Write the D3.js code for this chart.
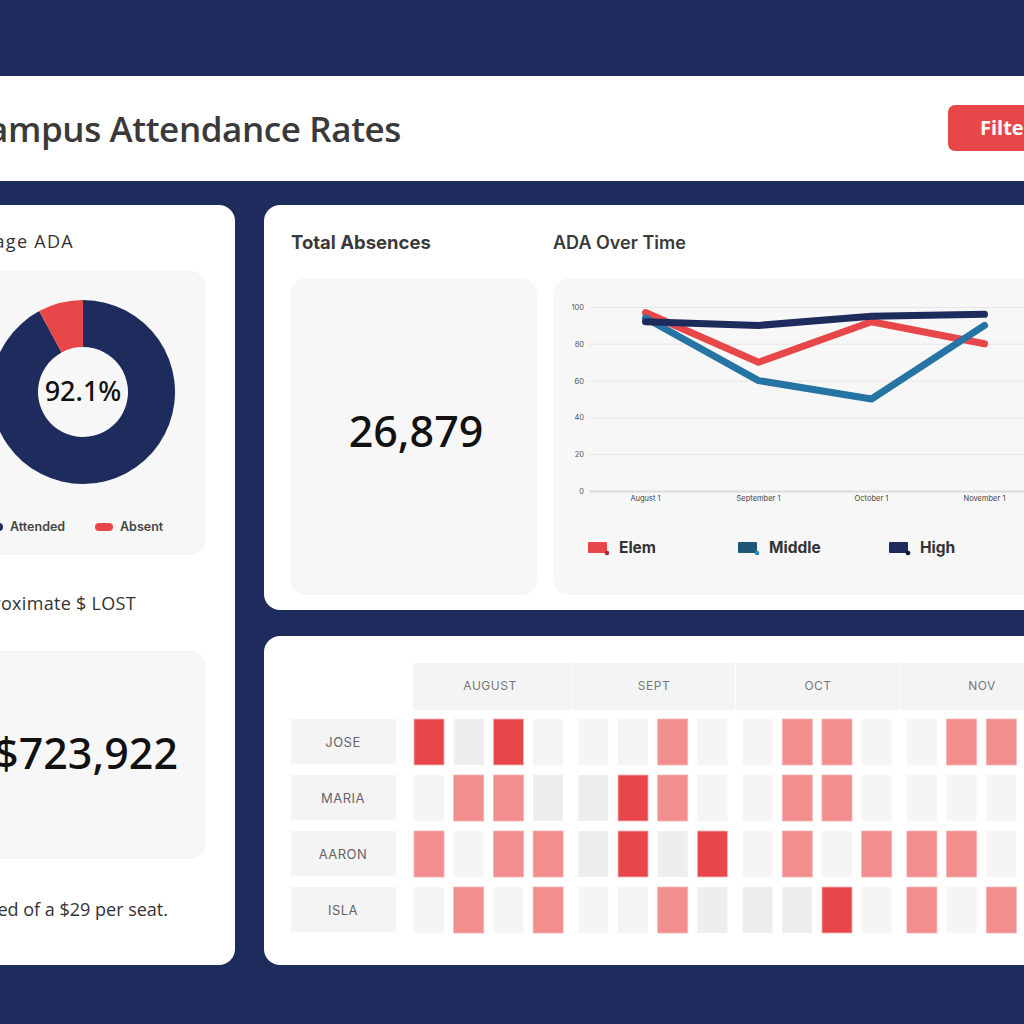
<!DOCTYPE html>
<html>
<head>
<meta charset="utf-8">
<script src="https://cdn.jsdelivr.net/npm/d3@7"></script>
<style>
  html, body { margin: 0; padding: 0; background: #1d2b5d; }
  svg { display: block; }
</style>
</head>
<body>
<div id="dash"></div>
<script>
// ---- data ----
const adaParts = ["Attended", "Absent"];
const adaValues = [92.1, 7.9];
const adaLabel = "92.1%";

const totalAbsences = "26,879";
const dollarsLost = "$723,922";

const dates = ["August 1", "September 1", "October 1", "November 1"];
const seriesNames = ["Elem", "Middle", "High"];
const elemValues = [97, 70, 92, 80];
const middleValues = [94, 60, 50, 90];
const highValues = [92, 90, 95, 96];
const yTicks = [0, 20, 40, 60, 80, 100];

const months = ["AUGUST", "SEPT", "OCT", "NOV"];
const weeks = [0, 1, 2, 3];
const students = ["JOSE", "MARIA", "AARON", "ISLA"];
// 0 = none (light), 1 = none (grey), 2 = some, 3 = many
const heatValues = [
  [3, 1, 3, 0,  0, 0, 2, 0,  0, 2, 2, 0,  0, 2, 2, 0],
  [0, 2, 2, 1,  1, 3, 2, 0,  0, 2, 2, 0,  0, 0, 0, 0],
  [2, 0, 2, 2,  1, 3, 1, 3,  0, 2, 0, 2,  2, 2, 0, 0],
  [0, 2, 0, 2,  0, 0, 2, 1,  1, 1, 3, 0,  2, 0, 2, 0]
];

// ---- colours / fonts ----
const NAVY = "#1d2b5d";
const RED = "#e84749";
const BLUE = "#2574a4";
const PANEL = "#f7f7f7";
const titleFont = "'Open Sans', 'Noto Sans', sans-serif";
const boldFont = "Inter, 'Noto Sans', sans-serif";
const numFont = "'Noto Sans', sans-serif";

const W = 1024, H = 1024;
const svg = d3.select("#dash").append("svg")
  .attr("width", W).attr("height", H)
  .attr("viewBox", `0 0 ${W} ${H}`);

svg.append("rect").attr("width", W).attr("height", H).attr("fill", NAVY);

// ---- header ----
svg.append("rect").attr("x", -10).attr("y", 76).attr("width", W + 20).attr("height", 105).attr("fill", "#fff");
svg.append("text")
  .attr("x", 401).attr("y", 142)
  .attr("text-anchor", "end")
  .style("font-family", titleFont).style("font-size", "35px").style("font-weight", 600)
  .style("letter-spacing", "-0.4px")
  .attr("fill", "#3a3a3a")
  .text("Campus Attendance Rates");

svg.append("rect").attr("x", 948).attr("y", 105).attr("width", 120).attr("height", 46).attr("rx", 7).attr("fill", RED);
svg.append("text")
  .attr("x", 980).attr("y", 135)
  .style("font-family", titleFont).style("font-size", "20px").style("font-weight", 700)
  .attr("fill", "#fff")
  .text("Filter");

// ---- cards ----
const card = (x, y, w, h, fill, r) => svg.append("rect")
  .attr("x", x).attr("y", y).attr("width", w).attr("height", h)
  .attr("rx", r).attr("fill", fill);

card(-40, 205, 275, 760, "#fff", 16);
card(264, 205, 820, 405, "#fff", 16);
card(264, 636, 820, 329, "#fff", 16);

// ======================================================
// LEFT CARD — AVERAGE ADA DONUT + $ LOST
// ======================================================
const cardTitle = (x, y, t, anchor) => svg.append("text")
  .attr("x", x).attr("y", y).attr("text-anchor", anchor || "start")
  .style("font-family", titleFont).style("font-size", "18px").style("font-weight", 500)
  .style("letter-spacing", "0.3px")
  .attr("fill", "#333").text(t);

cardTitle(74, 248, "Average ADA", "end").style("letter-spacing", "1.3px");
card(-40, 271, 246, 284, PANEL, 16);

const pie = d3.pie().sort(null).startAngle(0).endAngle(2 * Math.PI)(adaValues);
const arc = d3.arc().innerRadius(45).outerRadius(92);
const donut = svg.append("g").attr("transform", "translate(83,392)");
donut.selectAll("path")
  .data(pie)
  .join("path")
  .attr("d", arc)
  .attr("fill", (d, i) => i === 0 ? NAVY : RED);
donut.append("text")
  .attr("text-anchor", "middle").attr("dy", "0.35em")
  .style("font-family", numFont).style("font-size", "27px").style("font-weight", 500)
  .attr("fill", "#111").text(adaLabel);

const adaLegend = svg.append("g");
const adaLegendX = [-15, 95];
adaParts.forEach((p, i) => {
  adaLegend.append("rect")
    .attr("x", adaLegendX[i]).attr("y", 523).attr("width", 18).attr("height", 8).attr("rx", 4)
    .attr("fill", i === 0 ? NAVY : RED);
  adaLegend.append("text")
    .attr("x", adaLegendX[i] + 25).attr("y", 531)
    .style("font-family", boldFont).style("font-size", "12.5px").style("font-weight", 600)
    .attr("fill", "#444").text(p);
});

cardTitle(136, 610, "Approximate $ LOST", "end");
card(-40, 651, 246, 208, PANEL, 16);
svg.append("text")
  .attr("x", 178).attr("y", 769).attr("text-anchor", "end")
  .style("font-family", numFont).style("font-size", "43px").style("font-weight", 500)
  .attr("fill", "#111").text(dollarsLost);
svg.append("text")
  .attr("x", 168).attr("y", 916).attr("text-anchor", "end")
  .style("font-family", titleFont).style("font-size", "18px")
  .attr("fill", "#333").text("Calculated of a $29 per seat.");

// ======================================================
// TOP MIDDLE — TOTAL ABSENCES + ADA OVER TIME
// ======================================================
const boldTitle = (x, y, t) => svg.append("text")
  .attr("x", x).attr("y", y)
  .style("font-family", boldFont).style("font-size", "18.5px").style("font-weight", 700)
  .attr("fill", "#3a3a3a").text(t);

boldTitle(291, 249, "Total Absences");
card(290, 278, 247, 317, PANEL, 16);
svg.append("text")
  .attr("x", 416).attr("y", 447).attr("text-anchor", "middle")
  .style("font-family", numFont).style("font-size", "43px").style("font-weight", 500)
  .attr("fill", "#111").text(totalAbsences);

boldTitle(553, 249, "ADA Over Time").style("font-weight", 600).style("font-size", "18px");
card(553, 278, 520, 317, PANEL, 16);

const x = d3.scaleBand().domain(dates).range([589, 1041]);
const y = d3.scaleLinear().domain([0, 100]).range([491, 307]);

const yAxis = svg.append("g")
  .attr("transform", "translate(589,0)")
  .call(d3.axisLeft(y).tickValues(yTicks).tickSize(-(1041 - 589)).tickPadding(5));
yAxis.select(".domain").remove();
yAxis.selectAll("line").attr("stroke", "#e6e6e6").attr("stroke-width", 1);
yAxis.selectAll("line").filter(d => d === 0).attr("stroke", "#dcdcdc").attr("stroke-width", 2);
yAxis.selectAll("text")
  .style("font-family", boldFont).style("font-size", "7.5px").attr("fill", "#555");

const xAxis = svg.append("g")
  .attr("transform", "translate(0,491)")
  .call(d3.axisBottom(x).tickSize(0).tickPadding(5));
xAxis.select(".domain").remove();
xAxis.selectAll("text")
  .style("font-family", boldFont).style("font-size", "7.5px").attr("fill", "#444");

const series = [
  { name: "Elem", values: elemValues, color: RED, swatch: RED, dot: "#b3262a" },
  { name: "Middle", values: middleValues, color: BLUE, swatch: "#1e5878", dot: "#2a86c4" },
  { name: "High", values: highValues, color: NAVY, swatch: NAVY, dot: "#0c1333" }
];

const lineGen = d3.line()
  .x((d, i) => x(dates[i]) + x.bandwidth() / 2)
  .y(d => y(d));

svg.append("g").selectAll("path")
  .data(series)
  .join("path")
  .attr("d", s => lineGen(s.values))
  .attr("fill", "none")
  .attr("stroke", s => s.color)
  .attr("stroke-width", 7)
  .attr("stroke-linecap", "round")
  .attr("stroke-linejoin", "round");

const legendX = [588, 738, 889];
const lg = svg.append("g").selectAll("g")
  .data(series)
  .join("g")
  .attr("transform", (s, i) => `translate(${legendX[i]},542)`);
lg.append("rect").attr("width", 19).attr("height", 11).attr("rx", 1).attr("fill", s => s.swatch);
lg.append("circle").attr("cx", 19).attr("cy", 11).attr("r", 2.3).attr("fill", s => s.dot);
lg.append("text")
  .attr("x", 31).attr("y", 11)
  .style("font-family", boldFont).style("font-size", "15.5px").style("font-weight", 700)
  .attr("fill", "#333").text(s => s.name);

// ======================================================
// BOTTOM — WEEKLY ABSENCE HEATMAP
// ======================================================
const monthX = d3.scaleBand().domain(months).range([413, 413 + 4 * 164.3]);
const headX = d3.scaleBand().domain(months).range([408, 408 + 4 * 164]);
const weekX = d3.scaleBand().domain(weeks).range([1, 150.1]).paddingInner(0.244).paddingOuter(0);
const rowY = d3.scaleBand().domain(students).range([719, 933]).paddingInner(0.179).paddingOuter(0);
const heatColor = d3.scaleOrdinal().domain([0, 1, 2, 3]).range(["#f5f5f5", "#eeeeee", "#f28e8e", RED]);

svg.append("clipPath").attr("id", "head-clip")
  .append("rect").attr("x", 413).attr("y", 600).attr("width", 700).attr("height", 200);

const heat = svg.append("g");

heat.append("g").attr("clip-path", "url(#head-clip)")
  .selectAll(".month-head")
  .data(months)
  .join("rect")
  .attr("class", "month-head")
  .attr("x", m => headX(m)).attr("y", 663)
  .attr("width", headX.bandwidth() - 1).attr("height", 47)
  .attr("fill", "#f4f4f4");
heat.selectAll(".month-label")
  .data(months)
  .join("text")
  .attr("class", "month-label")
  .attr("x", m => headX(m) + headX.bandwidth() / 2).attr("y", 690)
  .attr("text-anchor", "middle")
  .style("font-family", boldFont).style("font-size", "12px").style("letter-spacing", "0.5px")
  .attr("fill", "#777").text(m => m);

heat.selectAll(".name-box")
  .data(students)
  .join("rect")
  .attr("class", "name-box")
  .attr("x", 291).attr("y", s => rowY(s))
  .attr("width", 105).attr("height", rowY.bandwidth() - 1)
  .attr("fill", "#f4f4f4");
heat.selectAll(".name-label")
  .data(students)
  .join("text")
  .attr("class", "name-label")
  .attr("x", 343).attr("y", s => rowY(s) + rowY.bandwidth() / 2)
  .attr("dy", "0.35em").attr("text-anchor", "middle")
  .style("font-family", boldFont).style("font-size", "13px").style("letter-spacing", "0.5px")
  .attr("fill", "#666").text(s => s);

const cells = [];
students.forEach((s, r) => {
  heatValues[r].forEach((v, c) => {
    cells.push({ student: s, month: months[Math.floor(c / 4)], week: c % 4, value: v });
  });
});

heat.selectAll(".cell")
  .data(cells)
  .join("rect")
  .attr("class", "cell")
  .attr("x", d => monthX(d.month) + weekX(d.week))
  .attr("y", d => rowY(d.student))
  .attr("width", weekX.bandwidth())
  .attr("height", rowY.bandwidth())
  .attr("fill", d => heatColor(d.value))
  .attr("stroke", d => d.value >= 2 ? "#f6b3b3" : "none")
  .attr("stroke-width", 0.8);
</script>
</body>
</html>
